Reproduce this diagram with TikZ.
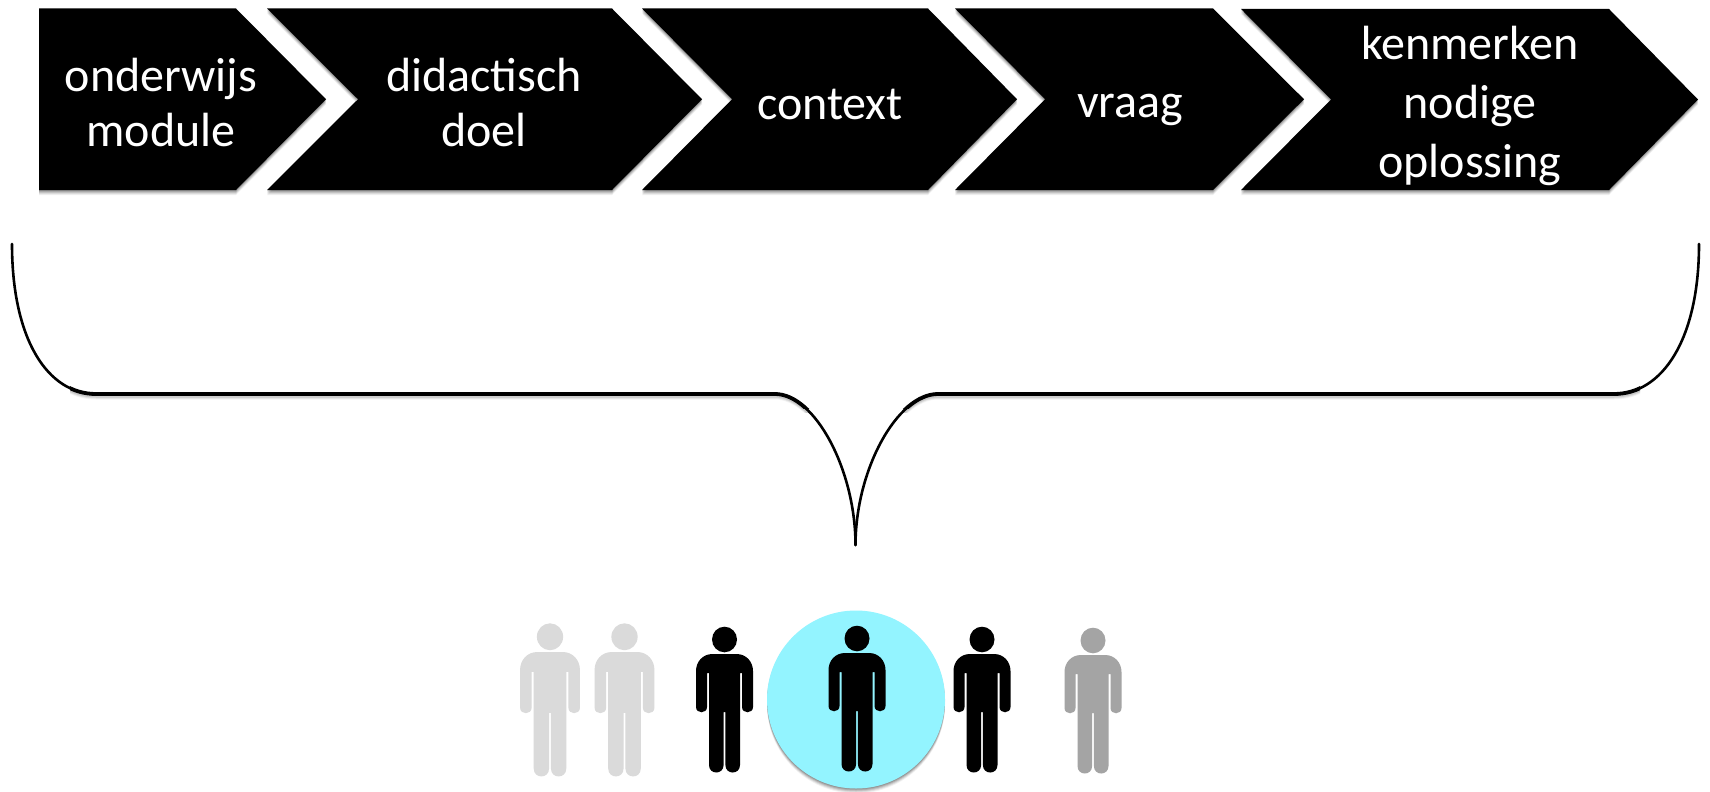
\documentclass[tikz,border=0pt]{standalone}
\usepackage{fontspec}
\setmainfont{Carlito}
\definecolor{lightp}{HTML}{DADADA}
\definecolor{midp}{HTML}{A4A4A4}
\definecolor{cyanc}{HTML}{93F4FF}
\tikzset{
  chevlabel/.style={text=white,align=center,inner sep=0pt,font=\fontsize{48}{55}\selectfont},
}
% #1 left, #2 notch, #3 shoulder, #4 tip, #5 top, #6 bottom
\newcommand{\chevshape}[6]{
  \pgfmathsetmacro{\mid}{(#5+#6)/2}
  \foreach \o/\a in {5/.06,4/.08,3/.1,2/.12,1/.14}{
    \fill[black,opacity=\a,yshift=-\o pt] (#1,#5) -- (#3,#5) -- (#4,\mid) -- (#3,#6) -- (#1,#6) -- (#2,\mid) -- cycle;
  }
  \fill[black] (#1,#5) -- (#3,#5) -- (#4,\mid) -- (#3,#6) -- (#1,#6) -- (#2,\mid) -- cycle;
}
% #1 x, #2 y of body top, #3 scale, #4 colour
\newcommand{\personfig}[4]{
  \begin{scope}[shift={(#1,#2)},scale=#3]
    \fill[#4] (0,-14.5) ellipse[x radius=12.5,y radius=12.8];
    \fill[#4] (-12,0) -- (12,0) .. controls (22,0) and (28.5,8) .. (28.5,17)
      -- (28.5,53) .. controls (28.5,60) and (17.5,60) .. (17.5,53)
      -- (17.5,19) -- (15.5,19) -- (15.5,111) .. controls (15.5,121) and (0.9,121) .. (0.9,111)
      -- (0.9,58) -- (-0.9,58) -- (-0.9,111) .. controls (-0.9,121) and (-15.5,121) .. (-15.5,111)
      -- (-15.5,19) -- (-17.5,19) -- (-17.5,53) .. controls (-17.5,60) and (-28.5,60) .. (-28.5,53)
      -- (-28.5,17) .. controls (-28.5,8) and (-22,0) .. (-12,0) -- cycle;
  \end{scope}
}
\newcommand{\braceleft}{(12,244) .. controls (12,340) and (48,394) .. (96,394) -- (775,394) .. controls (815,394) and (855.5,470) .. (855.5,545)}
\newcommand{\braceright}{(1699,244) .. controls (1699,340) and (1662,394) .. (1614,394) -- (938,394) .. controls (897,394) and (855.5,470) .. (855.5,545)}
\begin{document}
\begin{tikzpicture}[x=1pt,y=-1pt]
\useasboundingbox (0,0) rectangle (1710,792);
\fill[white] (0,0) rectangle (1710,792);
% chevrons
\chevshape{39}{39}{236}{326}{8.5}{190}
\chevshape{267}{358}{612}{702}{8.5}{190}
\chevshape{642}{732}{928}{1017}{8.5}{190}
\chevshape{955}{1045}{1213}{1304}{8.5}{190}
\chevshape{1241}{1331}{1609}{1698}{9}{190}
\node[chevlabel] (a) at (161,102.5) {onderwijs\\module};
\node[chevlabel] (b) at (484,102.5) {didactisch\\doel};
\node[chevlabel] (c) at (830,104) {context};
\node[chevlabel] (d) at (1130,110) {vraag};
\node[chevlabel,font=\fontsize{48}{59}\selectfont] (e) at (1470,105.5) {kenmerken\\nodige\\oplossing};
% brace shadow
\begin{scope}
  \clip (70,380) rectangle (1640,412);
  \foreach \o/\a in {4/.05,3/.08,2/.1}{
    \draw[black,opacity=\a,line width=3pt,yshift=-\o pt] \braceleft;
    \draw[black,opacity=\a,line width=3pt,yshift=-\o pt] \braceright;
  }
\end{scope}
% brace
\draw[black,line width=2.6pt,line join=round,line cap=round] \braceleft;
\draw[black,line width=2.6pt,line join=round,line cap=round] \braceright;
\begin{scope}
  \clip (70,380) rectangle (1640,408);
  \draw[black,line width=3.8pt] \braceleft;
  \draw[black,line width=3.8pt] \braceright;
\end{scope}
% circle
\foreach \o/\a in {5/.05,4/.08,3/.1,2/.12,1/.14}{
  \fill[black,opacity=\a] (856,699.5+\o) circle[radius=89];
}
\fill[cyanc] (856,699.5) circle[radius=89];
% people
\personfig{550}{652}{1.05}{lightp}
\personfig{624.5}{652}{1.05}{lightp}
\personfig{724.5}{654}{1}{black}
\personfig{857}{653}{1}{black}
\personfig{982}{654}{1}{black}
\personfig{1093}{655}{1}{midp}
\end{tikzpicture}
\end{document}
